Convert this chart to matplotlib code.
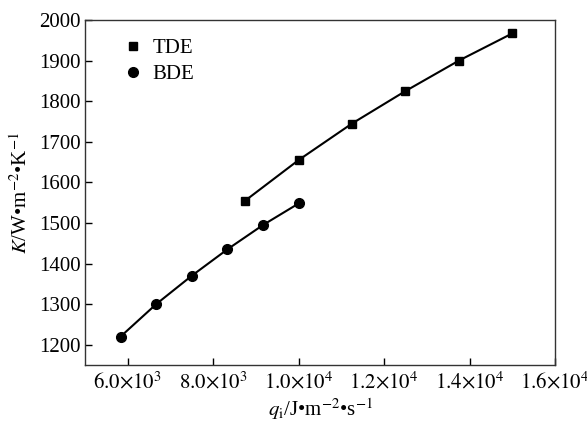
import matplotlib
matplotlib.use("Agg")
from matplotlib import pyplot as plt
from matplotlib.ticker import FuncFormatter

plt.rcParams['font.family'] = ['Liberation Serif', 'DejaVu Serif']
plt.rcParams['mathtext.fontset'] = 'stix'

# data
tde_q = [8750, 10000, 11250, 12500, 13750, 15000]
tde_k = [1555, 1655, 1745, 1825, 1900, 1967]
bde_q = [5833, 6667, 7500, 8333, 9167, 10000]
bde_k = [1220, 1300, 1370, 1435, 1495, 1548]

x_ticks = [6000, 8000, 10000, 12000, 14000, 16000]
y_ticks = [1200, 1300, 1400, 1500, 1600, 1700, 1800, 1900, 2000]


def sci_label(v, pos):
    exp = len(str(int(v))) - 1
    mant = v / 10 ** exp
    return r"${:.1f}{{\times}}10^{{{}}}$".format(mant, exp)


def main():
    fig = plt.figure(figsize=(5.87, 4.26), dpi=100)
    ax = fig.add_axes([0.1448, 0.1432, 0.8007, 0.8098])

    ax.plot(tde_q, tde_k, color="black", linewidth=1.5, marker="s",
            markersize=6, label="TDE")
    ax.plot(bde_q, bde_k, color="black", linewidth=1.5, marker="o",
            markersize=7, label="BDE")

    ax.set_xlim(5000, 16000)
    ax.set_ylim(1150, 2000)
    ax.set_xticks(x_ticks)
    ax.set_yticks(y_ticks)
    ax.xaxis.set_major_formatter(FuncFormatter(sci_label))
    ax.tick_params(direction="in", length=5, width=1, labelsize=15)
    ax.tick_params(axis="x", pad=5)
    ax.tick_params(axis="y", pad=3)
    for s in ax.spines.values():
        s.set_linewidth(1)
        s.set_color("#333333")

    ax.set_xlabel(r"$q_{\rm i}$/J•m$^{-2}$•s$^{-1}$", fontsize=15, labelpad=2)
    ax.set_ylabel(r"$K$/W•m$^{-2}$•K$^{-1}$", fontsize=15, labelpad=5)

    leg = ax.legend(loc="upper left", frameon=False, fontsize=15,
                    handlelength=0.6, handletextpad=0.6, borderaxespad=0.5,
                    labelspacing=0.3, bbox_to_anchor=(0.05, 1.0))
    for line in leg.get_lines():
        line.set_linestyle("none")

    plt.savefig("out.png", dpi=100)


if __name__ == "__main__":
    main()
